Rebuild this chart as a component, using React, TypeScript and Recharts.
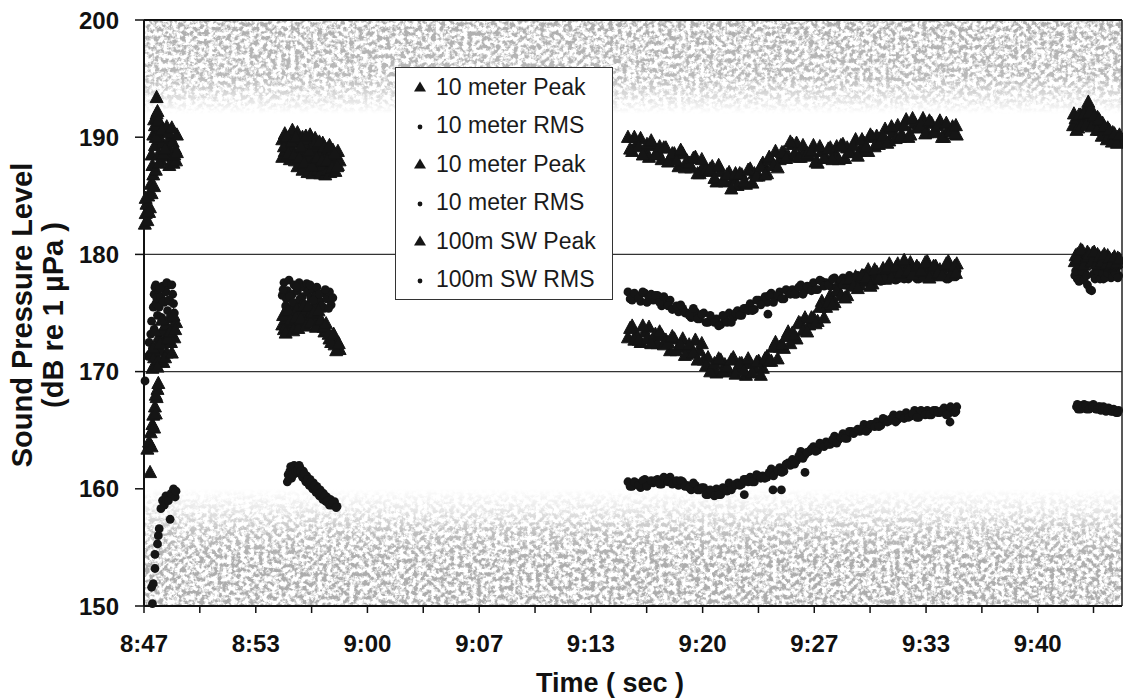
import React from 'react';
import { ScatterChart, Scatter, XAxis, YAxis, ReferenceLine, ReferenceArea, Legend, Label } from 'recharts';

const FONT = '"Liberation Sans", Arial, Helvetica, sans-serif';
const INK = '#151515';

// ---- axes ----
const xTickLabels = ['8:47', '8:53', '9:00', '9:07', '9:13', '9:20', '9:27', '9:33', '9:40'];
const xTicks = [0, 3.31, 6.63, 9.94, 13.25, 16.56, 19.88, 23.19, 26.5, 29.81, 33.13, 36.44, 39.75, 43.06, 46.38, 49.69, 53, 56.31];
const yTicks = [150, 160, 170, 180, 190, 200];

// ---- segment at 9:16 - 9:35 (minutes after 8:47) ----
const tC = [
  28.7, 28.95, 29.2, 29.45, 29.7, 29.95, 30.2, 30.45, 30.7, 30.95,
  31.2, 31.45, 31.7, 31.95, 32.2, 32.45, 32.7, 32.95, 33.2, 33.45,
  33.7, 33.95, 34.2, 34.45, 34.7, 34.95, 35.2, 35.45, 35.7, 35.95,
  36.2, 36.45, 36.7, 36.95, 37.2, 37.45, 37.7, 37.95, 38.2, 38.45,
  38.7, 38.95, 39.2, 39.45, 39.7, 39.95, 40.2, 40.45, 40.7, 40.95,
  41.2, 41.45, 41.7, 41.95, 42.2, 42.45, 42.7, 42.95, 43.2, 43.45,
  43.7, 43.95, 44.2, 44.45, 44.7, 44.95, 45.2, 45.45, 45.7, 45.95,
  46.2, 46.45, 46.7, 46.95, 47.2, 47.45, 47.7, 47.95, 48.2,
];
const tC2 = [
  28.83, 29.08, 29.33, 29.58, 29.83, 30.08, 30.33, 30.58, 30.83, 31.08,
  31.33, 31.58, 31.83, 32.08, 32.33, 32.58, 32.83, 33.08, 33.33, 33.58,
  33.83, 34.08, 34.33, 34.58, 34.83, 35.08, 35.33, 35.58, 35.83, 36.08,
  36.33, 36.58, 36.83, 37.08, 37.33, 37.58, 37.83, 38.08, 38.33, 38.58,
  38.83, 39.08, 39.33, 39.58, 39.83, 40.08, 40.33, 40.58, 40.83, 41.08,
  41.33, 41.58, 41.83, 42.08, 42.33, 42.58, 42.83, 43.08, 43.33, 43.58,
  43.83, 44.08, 44.33, 44.58, 44.83, 45.08, 45.33, 45.58, 45.83, 46.08,
  46.33, 46.58, 46.83, 47.08, 47.33, 47.58, 47.83, 48.08, 48.15,
];
const peak10C = [
  190.0, 188.8, 189.4, 189.9, 188.8, 188.3, 189.3, 188.8, 188.1, 189.1,
  188.2, 188.6, 187.5, 188.6, 188.0, 187.4, 188.3, 186.9, 187.6, 187.1,
  187.5, 186.2, 187.1, 186.2, 187.0, 186.4, 185.9, 186.8, 186.0, 187.3,
  186.9, 186.7, 187.8, 186.9, 188.0, 188.8, 188.1, 188.7, 188.4, 189.4,
  189.5, 188.3, 188.8, 188.4, 189.3, 187.8, 188.8, 188.2, 189.1, 188.7,
  188.1, 189.4, 189.1, 188.7, 189.8, 188.8, 189.5, 188.8, 190.0, 190.1,
  189.7, 190.7, 189.7, 190.4, 191.0, 190.2, 191.5, 190.2, 191.2, 190.9,
  191.6, 190.4, 191.2, 190.5, 191.4, 190.0, 190.7, 190.9, 190.2,
];
const peak10C2 = [
  189.0, 190.0, 189.2, 188.5, 189.4, 189.7, 188.5, 189.2, 189.1, 187.9,
  188.6, 188.0, 188.9, 187.4, 187.8, 188.2, 186.9, 188.1, 187.2, 187.3,
  186.5, 187.6, 186.3, 186.8, 185.6, 186.9, 186.9, 186.2, 187.2, 186.1,
  186.7, 187.5, 186.8, 188.3, 187.6, 187.4, 188.7, 188.2, 189.6, 188.6,
  188.3, 189.3, 188.6, 188.8, 187.9, 189.2, 188.2, 189.0, 188.1, 189.2,
  189.3, 188.2, 188.7, 189.3, 188.4, 189.8, 189.2, 190.2, 189.2, 189.4,
  190.1, 189.5, 190.9, 189.9, 190.0, 191.0, 190.0, 191.6, 190.8, 191.1,
  190.3, 191.4, 190.4, 191.0, 190.0, 191.2, 190.5, 190.3, 191.0,
];
const rms10C = [
  176.8, 176.1, 176.5, 176.0, 176.7, 176.3, 176.1, 176.5, 175.6, 176.0,
  176.1, 175.4, 175.1, 175.4, 175.0, 174.6, 175.1, 174.5, 175.0, 174.2,
  174.4, 174.5, 174.0, 174.5, 175.0, 174.6, 175.2, 174.8, 175.4, 175.8,
  175.3, 176.1, 176.0, 175.9, 176.7, 176.3, 176.8, 176.2, 176.8, 177.0,
  176.6, 177.4, 176.9, 177.2, 177.6, 177.0, 177.7, 177.6, 177.3, 178.0,
  177.5, 178.0, 177.4, 178.0, 177.8, 177.7, 178.4, 177.7, 178.1, 178.4,
  177.7, 178.3, 178.1, 178.6, 177.9, 178.2, 178.5, 178.1, 178.7, 177.9,
  178.4, 178.6, 178.0, 178.5, 178.2, 178.7, 177.9, 178.3, 178.5,
];
const rms10C2 = [
  176.2, 176.7, 176.3, 176.8, 175.9, 176.6, 176.5, 175.9, 176.4, 175.6,
  175.3, 175.6, 175.7, 175.0, 174.8, 175.4, 174.5, 174.9, 174.2, 174.8,
  174.2, 173.9, 174.8, 174.2, 174.2, 175.0, 174.8, 175.4, 175.2, 175.2,
  176.1, 175.7, 176.4, 176.5, 175.9, 176.5, 176.2, 177.0, 176.6, 176.6,
  177.2, 176.6, 177.3, 176.9, 177.0, 177.8, 177.3, 177.4, 177.9, 177.2,
  177.8, 177.4, 178.2, 177.6, 178.2, 178.1, 177.6, 178.3, 177.9, 177.8,
  178.5, 177.9, 178.3, 177.8, 178.5, 177.9, 177.9, 178.5, 177.9, 178.7,
  178.2, 178.0, 178.6, 178.1, 178.4, 177.9, 178.7, 178.6, 178.1,
];
const peak10bC = [
  172.9, 173.9, 173.2, 172.5, 173.4, 173.8, 172.8, 172.4, 173.1, 172.7,
  171.8, 172.8, 172.1, 172.8, 171.5, 172.0, 172.7, 171.8, 171.0, 171.2,
  170.1, 169.9, 171.0, 170.6, 170.0, 171.2, 170.3, 170.7, 169.7, 170.7,
  170.3, 170.9, 170.3, 171.3, 170.9, 172.5, 172.1, 172.0, 173.4, 173.3,
  172.8, 174.1, 174.6, 174.0, 174.6, 174.3, 176.0, 175.5, 176.5, 175.9,
  176.9, 177.5, 176.5, 177.5, 178.1, 177.4, 177.8, 178.7, 177.5, 178.5,
  178.3, 177.9, 179.2, 178.5, 179.2, 178.1, 179.0, 179.3, 178.4, 178.8,
  178.1, 179.4, 178.2, 179.0, 178.7, 178.2, 179.4, 178.6, 179.2,
];
const peak10bC2 = [
  173.7, 172.7, 172.7, 173.9, 172.8, 172.4, 173.2, 173.4, 172.3, 172.5,
  173.0, 171.8, 172.3, 171.4, 172.3, 171.6, 171.0, 172.4, 170.5, 170.0,
  170.7, 171.1, 170.0, 170.4, 171.0, 169.8, 170.7, 170.1, 171.1, 169.9,
  170.8, 169.7, 171.1, 170.9, 172.1, 171.1, 172.3, 173.0, 172.4, 173.1,
  174.2, 173.5, 173.4, 174.6, 174.1, 175.5, 174.6, 175.9, 175.7, 176.9,
  176.5, 176.3, 177.9, 177.3, 177.1, 178.2, 178.0, 177.3, 178.7, 177.9,
  178.8, 178.9, 178.0, 178.9, 178.4, 179.5, 178.6, 178.3, 179.0, 178.6,
  179.3, 178.0, 179.0, 178.4, 178.2, 179.2, 178.2, 179.0, 178.4,
];
const rms10bC = [
  160.6, 160.2, 160.5, 160.1, 160.8, 160.5, 160.5, 160.8, 160.4, 160.8,
  161.0, 160.5, 160.3, 160.6, 160.3, 159.9, 160.3, 159.9, 160.1, 159.5,
  159.6, 160.0, 159.5, 160.0, 160.5, 160.2, 160.5, 160.4, 160.8, 161.0,
  160.6, 161.1, 161.1, 161.0, 161.7, 161.4, 161.8, 161.5, 162.2, 162.5,
  162.4, 163.2, 162.9, 163.2, 163.6, 163.3, 163.8, 164.0, 163.8, 164.5,
  164.2, 164.7, 164.3, 164.9, 164.9, 164.9, 165.5, 165.1, 165.5, 165.7,
  165.4, 165.9, 165.8, 166.3, 165.9, 166.2, 166.5, 166.2, 166.7, 166.1,
  166.5, 166.7, 166.3, 166.7, 166.5, 166.9, 166.4, 166.7, 167.0,
];
const rms10bC2 = [
  160.2, 160.6, 160.3, 160.7, 160.2, 160.7, 160.7, 160.4, 161.0, 160.6,
  160.4, 160.7, 160.7, 160.2, 160.1, 160.5, 159.9, 160.1, 159.5, 159.9,
  159.4, 159.5, 160.1, 159.8, 159.9, 160.4, 160.3, 160.8, 160.6, 160.6,
  161.2, 160.9, 160.9, 161.4, 161.1, 161.6, 161.4, 162.1, 162.0, 162.1,
  162.8, 162.6, 163.1, 163.4, 163.2, 163.9, 163.6, 163.8, 164.2, 163.9,
  164.4, 164.3, 164.9, 164.7, 165.1, 165.1, 164.9, 165.5, 165.3, 165.3,
  166.0, 165.7, 166.0, 165.7, 166.3, 166.0, 166.1, 166.4, 166.1, 166.7,
  166.3, 166.3, 166.7, 166.5, 166.7, 166.3, 167.0, 166.5, 166.6,
];

// ---- other segments as [minute, dB] ----
const peak10A: [number, number][] = [
  [0.05, 182.6], [0.1, 183.5], [0.15, 184.3], [0.2, 182.9], [0.25, 185.0], [0.35, 184.0], [0.4, 186.0],
  [0.45, 185.2], [0.55, 186.8], [0.6, 185.8], [0.7, 187.2], [0.45, 188.5], [0.55, 190.2], [0.6, 191.5],
  [0.65, 189.3], [0.75, 193.4], [0.75, 192.0], [0.8, 190.5], [0.85, 188.5], [0.9, 189.8], [0.95, 191.2],
  [1.0, 188.0], [1.1, 189.5], [1.2, 190.5], [1.3, 188.4], [1.35, 190.9], [1.4, 189.2], [1.5, 187.6],
  [1.55, 190.0], [1.6, 188.6], [1.7, 189.6], [1.75, 187.8], [1.85, 189.0], [1.9, 188.0], [1.95, 190.2],
  [0.1, 184.8], [0.3, 183.6], [0.5, 187.6], [0.65, 191.0], [0.7, 190.0], [0.8, 192.2], [0.85, 191.4],
  [0.9, 187.8], [1.05, 190.6], [1.15, 188.6], [1.25, 189.0], [1.45, 190.4], [1.65, 190.8], [1.8, 188.5],
  [1.95, 188.7],
];
const peak10B: [number, number][] = [
  [8.2, 189.8], [8.2, 188.3], [8.35, 190.3], [8.35, 188.8], [8.5, 189.3], [8.65, 188.1], [8.65, 190.0],
  [8.8, 189.0], [8.8, 190.6], [8.95, 188.0], [8.95, 189.6], [9.1, 190.4], [9.1, 187.5], [9.25, 188.7],
  [9.25, 189.8], [9.4, 187.2], [9.4, 190.0], [9.55, 188.4], [9.55, 189.4], [9.7, 187.0], [9.7, 189.8],
  [9.85, 188.2], [9.85, 190.2], [10.0, 186.9], [10.0, 189.0], [10.15, 188.0], [10.15, 189.9], [10.3, 187.2],
  [10.3, 189.2], [10.45, 188.6], [10.45, 186.9], [10.6, 187.6], [10.6, 189.5], [10.75, 188.3], [10.75, 186.8],
  [10.9, 187.2], [10.9, 189.0], [11.05, 188.6], [11.05, 187.0], [11.2, 187.8], [11.2, 188.9], [11.35, 188.4],
  [11.35, 187.1], [11.5, 187.6], [11.5, 188.8], [11.6, 188.0],
  [8.3, 189.2], [8.45, 190.0], [8.55, 188.6], [8.75, 189.6], [8.9, 188.5], [9.0, 190.0], [9.2, 188.2],
  [9.3, 189.2], [9.5, 187.8], [9.6, 190.1], [9.8, 188.8], [9.95, 187.6], [10.1, 189.4], [10.25, 188.2],
  [10.4, 189.6], [10.55, 188.0], [10.7, 189.2], [10.85, 188.0], [11.0, 189.3], [11.15, 187.4], [11.3, 188.6],
  [11.45, 187.5],
];
const peak10D: [number, number][] = [
  [55.1, 191.0], [55.25, 191.6], [55.4, 190.8], [55.55, 191.9], [55.7, 191.2], [55.85, 192.4], [56.0, 193.0],
  [56.1, 191.5], [56.25, 192.2], [56.4, 191.0], [56.55, 191.7], [56.7, 190.6], [56.85, 191.2], [57.0, 190.2],
  [57.15, 190.8], [57.3, 189.9], [57.45, 190.4], [57.6, 189.7], [57.75, 190.0], [57.85, 189.6],
  [55.15, 192.0], [55.3, 190.6], [55.45, 191.9], [55.6, 191.0], [55.75, 192.0], [55.9, 191.1], [56.05, 192.1],
  [56.2, 190.9], [56.35, 191.8], [56.5, 190.6], [56.65, 191.5], [56.8, 190.1], [56.95, 190.9], [57.1, 189.8],
  [57.25, 190.6], [57.4, 189.6], [57.55, 190.3], [57.7, 189.5], [57.85, 190.2],
];

const rms10A: [number, number][] = [
  [0.3, 172.5], [0.35, 171.5], [0.4, 173.2], [0.5, 172.0], [0.55, 175.5], [0.6, 176.6], [0.65, 177.2],
  [0.7, 175.8], [0.75, 176.3], [0.8, 174.8], [0.85, 177.0], [0.9, 175.5], [1.0, 176.4], [1.05, 174.6],
  [1.1, 177.3], [1.2, 175.9], [1.25, 174.3], [1.3, 176.8], [1.4, 175.2], [1.5, 177.4], [1.55, 176.0],
  [1.6, 174.5], [1.7, 176.6], [1.8, 175.0],
  [0.45, 174.3], [0.6, 173.6], [0.7, 177.4], [0.95, 177.1], [1.15, 176.0], [1.35, 177.6], [1.45, 176.1],
  [1.65, 177.4], [1.75, 175.8], [0.25, 171.3],
];
const rms10B: [number, number][] = [
  [8.2, 176.5], [8.3, 177.6], [8.4, 175.6], [8.5, 176.9], [8.6, 177.8], [8.7, 175.4], [8.8, 176.6],
  [8.9, 177.4], [9.0, 175.8], [9.1, 176.9], [9.2, 177.6], [9.3, 175.3], [9.4, 176.4], [9.5, 177.2],
  [9.6, 175.7], [9.7, 176.8], [9.8, 175.2], [9.9, 176.3], [10.0, 177.0], [10.1, 175.6], [10.2, 176.5],
  [10.3, 175.0], [10.45, 176.0], [10.6, 176.7], [10.7, 175.4], [10.85, 176.2], [11.0, 176.8], [11.1, 175.7],
  [8.25, 177.0], [8.45, 176.2], [8.65, 176.4], [8.85, 175.9], [9.05, 177.2], [9.25, 176.2], [9.45, 175.8],
  [9.65, 177.5], [9.85, 177.4], [10.05, 176.1], [10.25, 177.2], [10.4, 176.6], [10.55, 175.6], [10.75, 177.0],
  [10.95, 175.4], [11.2, 176.3],
];
const rms10Extra: [number, number][] = [[37.0, 174.9]];
const rms10D: [number, number][] = [
  [55.2, 178.2], [55.35, 177.9], [55.5, 178.5], [55.65, 178.0], [55.8, 178.4], [55.95, 177.4], [56.1, 177.0],
  [56.2, 176.9], [56.3, 178.3], [56.45, 178.6], [56.6, 178.1], [56.75, 178.5], [56.9, 177.9], [57.05, 178.3],
  [57.2, 178.6], [57.35, 178.0], [57.5, 178.4], [57.65, 178.7], [57.8, 178.2],
  [55.25, 178.6], [55.45, 177.7], [55.6, 178.6], [55.75, 177.8], [55.9, 178.2], [56.4, 177.9], [56.55, 178.6],
  [56.7, 177.9], [56.85, 178.4], [57.0, 178.0], [57.15, 178.4], [57.3, 178.8], [57.45, 178.1], [57.6, 178.4],
  [57.75, 178.0],
];

const peak10bA: [number, number][] = [
  [0.5, 170.3], [0.6, 171.2], [0.7, 170.6], [0.75, 172.3], [0.85, 171.0], [0.9, 173.0], [1.0, 171.8],
  [1.1, 173.5], [1.15, 170.8], [1.2, 172.6], [1.3, 174.0], [1.35, 171.6], [1.45, 173.2], [1.5, 174.6],
  [1.6, 172.5], [1.7, 173.8], [1.8, 172.9], [1.9, 174.2],
  [0.55, 172.0], [0.65, 173.5], [0.8, 170.4], [0.95, 172.4], [1.05, 174.4], [1.25, 171.2], [1.4, 172.8],
  [1.55, 173.4], [1.65, 171.6], [1.75, 174.8], [1.85, 173.6],
];
const peak10bB: [number, number][] = [
  [8.2, 174.0], [8.3, 173.6], [8.45, 174.5], [8.6, 173.8], [8.75, 175.0], [8.9, 174.2], [9.05, 175.3],
  [9.2, 174.0], [9.35, 175.0], [9.5, 174.4], [9.65, 175.4], [9.8, 174.8], [9.95, 175.1], [10.1, 174.3],
  [10.25, 174.6], [10.4, 173.9], [10.55, 174.0], [10.7, 173.4], [10.85, 173.5], [11.0, 172.8], [11.15, 173.0],
  [11.3, 172.3], [11.45, 172.5], [11.6, 171.9],
  [8.25, 174.8], [8.4, 173.3], [8.55, 175.2], [8.7, 174.4], [8.85, 173.5], [9.0, 174.6], [9.15, 173.7],
  [9.3, 174.5], [9.45, 175.6], [9.6, 173.9], [9.75, 175.6], [9.9, 174.2], [10.05, 175.0], [10.2, 173.8],
  [10.35, 175.2], [10.5, 174.4], [10.65, 173.8], [10.8, 174.1], [10.95, 173.2], [11.1, 172.5], [11.25, 173.2],
  [11.4, 171.8], [11.55, 172.4],
];
const peak10bD: [number, number][] = [
  [55.2, 179.4], [55.35, 180.0], [55.5, 179.2], [55.65, 180.3], [55.8, 179.5], [55.95, 180.2], [56.1, 179.3],
  [56.25, 180.1], [56.4, 179.6], [56.55, 180.0], [56.7, 179.1], [56.85, 179.8], [57.0, 179.3], [57.15, 179.9],
  [57.3, 179.0], [57.45, 179.6], [57.6, 179.2], [57.75, 179.7],
  [55.25, 179.9], [55.4, 179.6], [55.55, 180.4], [55.75, 179.1], [55.9, 179.8], [56.05, 180.0], [56.2, 179.4],
  [56.35, 180.2], [56.5, 179.2], [56.65, 179.8], [56.8, 179.4], [56.95, 180.0], [57.1, 179.2], [57.25, 179.7],
  [57.4, 179.3], [57.55, 179.8], [57.7, 179.3], [57.85, 179.6],
];

const rms10bB: [number, number][] = [
  [8.5, 160.6], [8.55, 161.2], [8.65, 161.5], [8.75, 160.9], [8.85, 161.7], [8.95, 161.3], [9.05, 161.9],
  [9.15, 161.4], [9.25, 161.8], [9.35, 161.2], [9.45, 161.5], [9.55, 160.8], [9.65, 161.1], [9.75, 160.5],
  [9.85, 160.8], [9.95, 160.2], [10.05, 160.5], [10.15, 159.9], [10.25, 160.2], [10.35, 159.6], [10.45, 159.9],
  [10.55, 159.3], [10.65, 159.6], [10.75, 159.0], [10.85, 159.3], [10.95, 158.8], [11.05, 159.1], [11.15, 158.6],
  [11.3, 158.9], [11.45, 158.5],
  [8.6, 160.9], [8.7, 161.9], [8.8, 161.2], [8.9, 162.0], [9.0, 161.5], [9.1, 161.6], [9.2, 162.0],
  [9.3, 161.5], [9.4, 161.0], [9.5, 161.3], [9.6, 160.6], [9.7, 160.8], [9.8, 160.3], [9.9, 160.6],
  [10.0, 160.0], [10.1, 160.3], [10.2, 159.7], [10.3, 160.0], [10.4, 159.4], [10.5, 159.7], [10.6, 159.1],
  [10.7, 159.4], [10.8, 158.9], [10.9, 159.0], [11.0, 158.6], [11.2, 158.8], [11.4, 158.4],
];
const rms10bExtra: [number, number][] = [[35.6, 159.5], [37.3, 159.9], [37.8, 159.9], [39.2, 161.4], [47.8, 165.7]];
const rms10bD: [number, number][] = [
  [55.3, 167.0], [55.4, 166.8], [55.5, 167.1], [55.6, 166.9], [55.75, 167.2], [55.9, 166.8], [56.0, 167.1],
  [56.15, 166.9], [56.3, 167.2], [56.45, 166.8], [56.6, 167.0], [56.75, 166.7], [56.9, 167.0], [57.05, 166.6],
  [57.2, 166.9], [57.35, 166.6], [57.5, 166.8], [57.65, 166.5], [57.8, 166.7],
  [55.35, 167.2], [55.55, 166.8], [55.7, 167.0], [55.85, 167.1], [56.05, 166.8], [56.25, 167.0], [56.4, 167.0],
  [56.55, 166.8], [56.7, 167.0], [56.85, 166.8], [57.0, 166.9], [57.15, 166.7], [57.3, 166.8], [57.45, 166.6],
  [57.6, 166.7], [57.75, 166.5],
];

const peakSWA: [number, number][] = [
  [0.36, 161.4], [0.2, 163.4], [0.3, 164.0], [0.45, 163.6], [0.4, 164.8], [0.5, 165.5], [0.55, 166.3],
  [0.6, 165.2], [0.65, 167.0], [0.7, 166.4], [0.75, 167.8], [0.8, 168.5], [0.85, 169.0], [0.7, 168.0],
];
const rmsSWA: [number, number][] = [
  [0.06, 169.2], [0.5, 150.2], [0.45, 151.6], [0.55, 151.9], [0.65, 153.2], [0.65, 154.4], [0.8, 155.3],
  [0.85, 156.0], [0.9, 156.6], [1.55, 157.4], [1.0, 158.3], [1.1, 159.0], [1.2, 158.6], [1.3, 159.4],
  [1.45, 159.0], [1.6, 159.6], [1.75, 160.0], [1.85, 159.3], [1.9, 159.8],
];

const pts = (pairs: [number, number][]) => pairs.map(([x, y]) => ({ x, y }));
const zipC = (times: number[], vals: number[]) => times.map((t, i) => ({ x: t, y: vals[i] }));

const series = [
  { name: '10 meter Peak', kind: 'triangle', data: [...pts(peak10A), ...pts(peak10B), ...zipC(tC, peak10C), ...zipC(tC2, peak10C2), ...pts(peak10D)] },
  { name: '10 meter RMS', kind: 'circle', data: [...pts(rms10A), ...pts(rms10B), ...zipC(tC, rms10C), ...zipC(tC2, rms10C2), ...pts(rms10Extra), ...pts(rms10D)] },
  { name: '10 meter Peak', kind: 'triangle', data: [...pts(peak10bA), ...pts(peak10bB), ...zipC(tC, peak10bC), ...zipC(tC2, peak10bC2), ...pts(peak10bD)] },
  { name: '10 meter RMS', kind: 'circle', data: [...pts(rms10bB), ...zipC(tC, rms10bC), ...zipC(tC2, rms10bC2), ...pts(rms10bExtra), ...pts(rms10bD)] },
  { name: '100m SW Peak', kind: 'triangle', data: pts(peakSWA) },
  { name: '100m SW RMS', kind: 'circle', data: pts(rmsSWA) },
];

const Tri = (p: any) => {
  const { cx, cy } = p;
  if (cx == null || cy == null) return <g />;
  return (
    <path
      d={`M${cx},${cy - 7}L${cx + 6.5},${cy + 5.2}L${cx - 6.5},${cy + 5.2}Z`}
      fill={INK}
      stroke={INK}
      strokeWidth={1}
      strokeLinejoin="round"
    />
  );
};
const Dot = (p: any) => {
  const { cx, cy } = p;
  if (cx == null || cy == null) return <g />;
  return <circle cx={cx} cy={cy} r={4.4} fill={INK} />;
};

const bandShape = (grad: string) => (p: any) => (
  <rect x={p.x} y={p.y} width={p.width} height={p.height} fill={`url(#${grad})`} filter="url(#grain)" />
);

const renderLegend = () => (
  <div style={{ width: 218, height: 233, boxSizing: 'border-box', border: '1.5px solid #333', background: '#fff' }}>
    {series.map((s, i) => (
      <div key={i} style={{ height: 38.5, display: 'flex', alignItems: 'center', fontFamily: FONT, fontSize: 23, color: '#1a1a1a' }}>
        <svg width={40} height={20} style={{ flex: 'none' }}>
          {s.kind === 'triangle'
            ? <path d="M24,4.5L30,14.5L18,14.5Z" fill={INK} />
            : <circle cx={24} cy={11} r={2.4} fill={INK} />}
        </svg>
        <span style={{ whiteSpace: 'nowrap' }}>{s.name}</span>
      </div>
    ))}
  </div>
);

const XTitle = (props: any) => {
  const vb = props.viewBox || { x: 144, y: 606, width: 978, height: 94 };
  return (
    <text x={vb.x + vb.width / 2 - 23} y={vb.y + 86} textAnchor="middle" fontFamily={FONT} fontSize={27} fontWeight={700} fill="#111">
      Time ( sec )
    </text>
  );
};
const YTitle = (props: any) => {
  const vb = props.viewBox || { x: 0, y: 20, width: 144, height: 586 };
  const cy = vb.y + vb.height / 2 + 2;
  return (
    <g>
      <text x={32} y={cy} transform={`rotate(-90 32 ${cy})`} textAnchor="middle" fontFamily={FONT} fontSize={29} fontWeight={700} fill="#111">
        Sound Pressure Level
      </text>
      <text x={63} y={cy} transform={`rotate(-90 63 ${cy})`} textAnchor="middle" fontFamily={FONT} fontSize={29} fontWeight={700} fill="#111">
        (dB re 1 µPa )
      </text>
    </g>
  );
};

export default function App() {
  return (
    <div style={{ position: 'absolute', left: 0, top: 0, width: 1123, height: 700, background: '#fff' }}>
      <ScatterChart width={1123} height={700} margin={{ top: 20, right: 1, left: 0, bottom: 0 }}>
        <defs>
          <filter id="grain" x="0" y="0" width="1" height="1">
            <feTurbulence type="fractalNoise" baseFrequency="0.22" numOctaves={4} seed={11} result="noise" />
            <feColorMatrix in="noise" type="matrix" values="0 0 0 0 0.42  0 0 0 0 0.42  0 0 0 0 0.42  4.2 0 0 0 -1.68" result="speck" />
            <feComposite in="speck" in2="SourceGraphic" operator="in" />
          </filter>
          <linearGradient id="gTop" x1="0" y1="0" x2="0" y2="1">
            <stop offset="0" stopColor="#fff" stopOpacity={1} />
            <stop offset="0.6" stopColor="#fff" stopOpacity={0.85} />
            <stop offset="0.85" stopColor="#fff" stopOpacity={0.35} />
            <stop offset="1" stopColor="#fff" stopOpacity={0} />
          </linearGradient>
          <linearGradient id="gBot" x1="0" y1="0" x2="0" y2="1">
            <stop offset="0" stopColor="#fff" stopOpacity={0} />
            <stop offset="0.18" stopColor="#fff" stopOpacity={0.3} />
            <stop offset="0.38" stopColor="#fff" stopOpacity={0.8} />
            <stop offset="0.6" stopColor="#fff" stopOpacity={1} />
            <stop offset="1" stopColor="#fff" stopOpacity={1} />
          </linearGradient>
        </defs>
        <XAxis
          type="number"
          dataKey="x"
          domain={[0, 58]}
          ticks={xTicks}
          interval={0}
          height={94}
          tickSize={7}
          tickMargin={22}
          tickFormatter={(v: number, i: number) => (i % 2 === 0 ? xTickLabels[i / 2] ?? '' : '')}
          axisLine={{ stroke: '#111', strokeWidth: 2 }}
          tickLine={{ stroke: '#111', strokeWidth: 1.5 }}
          tick={{ fill: '#111', fontSize: 24, fontWeight: 700, fontFamily: FONT }}
        >
          <Label content={XTitle} />
        </XAxis>
        <YAxis
          type="number"
          dataKey="y"
          domain={[150, 200]}
          ticks={yTicks}
          interval={0}
          width={144}
          tickSize={9}
          tickMargin={16}
          axisLine={{ stroke: '#111', strokeWidth: 2 }}
          tickLine={{ stroke: '#111', strokeWidth: 1.5 }}
          tick={{ fill: '#111', fontSize: 24, fontWeight: 700, fontFamily: FONT }}
        >
          <Label content={YTitle} />
        </YAxis>
        <ReferenceArea y1={192} y2={200} shape={bandShape('gTop')} stroke="none" fillOpacity={1} />
        <ReferenceArea y1={150} y2={160} shape={bandShape('gBot')} stroke="none" fillOpacity={1} />
        <ReferenceLine y={180} stroke="#333" strokeWidth={1.3} />
        <ReferenceLine y={170} stroke="#333" strokeWidth={1.3} />
        <ReferenceLine y={200} stroke="#111" strokeWidth={2} />
        <ReferenceLine x={58} stroke="#222" strokeWidth={1.5} />
        <Legend
          layout="vertical"
          align="center"
          verticalAlign="middle"
          content={renderLegend}
          wrapperStyle={{ left: 395, top: 67, width: 218, height: 233 }}
        />
        {series.map((s, i) => (
          <Scatter
            key={i}
            name={s.name}
            data={s.data}
            legendType={s.kind === 'triangle' ? 'triangle' : 'circle'}
            shape={s.kind === 'triangle' ? Tri : Dot}
            fill={INK}
            isAnimationActive={false}
          />
        ))}
      </ScatterChart>
    </div>
  );
}
